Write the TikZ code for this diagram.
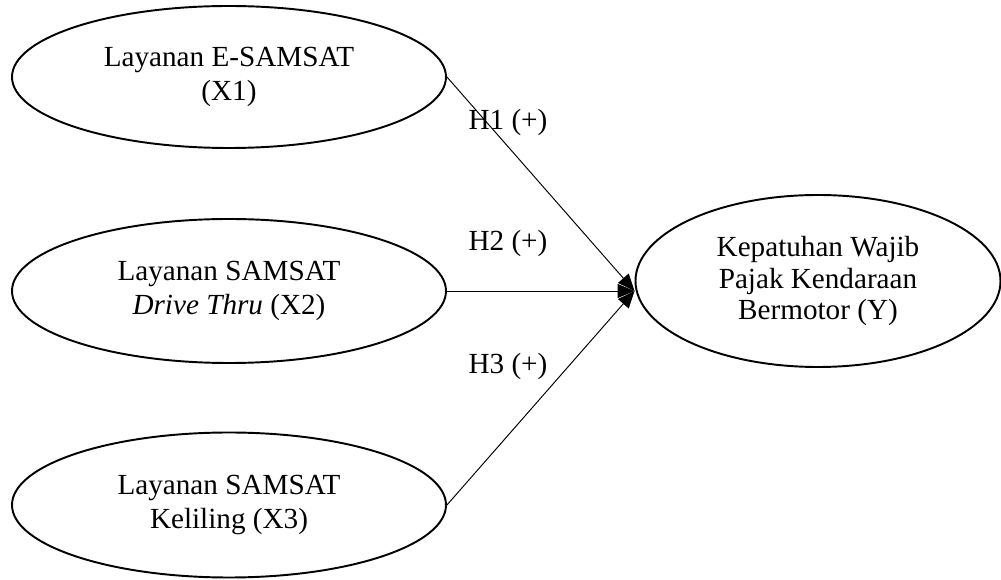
\documentclass[tikz,border=0pt]{standalone}
\usepackage{fontspec}
\setmainfont{Liberation Serif}
\usetikzlibrary{shapes.geometric,arrows.meta}

\tikzset{
    var/.style={draw, ellipse, line width=1.1pt, inner sep=0pt,
        align=center, font=\fontsize{16.6}{19.6}\selectfont},
    link/.style={line width=0.55pt, -{Triangle[length=0.34cm, width=0.28cm]}},
    hyp/.style={font=\fontsize{16.6}{19.6}\selectfont}
}

\begin{document}
\begin{tikzpicture}
    \useasboundingbox (0,0) rectangle (20.02,11.6);

    % Independent variables
    \node[var, minimum width=8.68cm, minimum height=2.84cm] (x1) at (4.58,10.06)
        {Layanan E-SAMSAT\\(X1)};
    \node[var, minimum width=8.68cm, minimum height=2.88cm] (x2) at (4.58,5.78)
        {Layanan SAMSAT\\\textit{Drive Thru} (X2)};
    \node[var, minimum width=8.68cm, minimum height=2.90cm] (x3) at (4.58,1.50)
        {Layanan SAMSAT\\Keliling (X3)};

    % Dependent variable
    \node[var, minimum width=7.3cm, minimum height=3.44cm,
        font=\fontsize{16.6}{18.2}\selectfont] (y) at (16.36,5.98)
        {Kepatuhan Wajib\\Pajak Kendaraan\\Bermotor (Y)};
    \coordinate (tip) at (y.west |- x2.east);

    % Hypotheses
    \draw[link] (x1.east) -- (tip);
    \draw[link] (x2.east) -- (tip);
    \draw[link] (x3.east) -- (tip);

    \node[hyp] (h1) at (10.16,9.16) {H1 (+)};
    \node[hyp] (h2) at (10.16,6.74) {H2 (+)};
    \node[hyp] (h3) at (10.16,4.28) {H3 (+)};

\end{tikzpicture}
\end{document}
